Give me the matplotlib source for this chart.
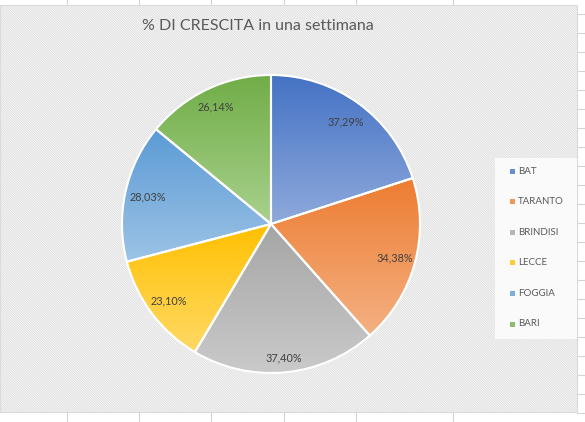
import numpy as np
import matplotlib.pyplot as plt
from matplotlib.patches import Rectangle
from matplotlib.colors import LinearSegmentedColormap
from matplotlib.lines import Line2D

# dati
province = ["BAT", "TARANTO", "BRINDISI", "LECCE", "FOGGIA", "BARI"]
crescita = [37.29, 34.38, 37.40, 23.10, 28.03, 26.14]
etichette = ["37,29%", "34,38%", "37,40%", "23,10%", "28,03%", "26,14%"]

# colori (alto scuro -> basso chiaro)
col_top = ["#4472C4", "#ED7D31", "#A5A5A5", "#FFC000", "#5B9BD5", "#70AD47"]
col_bot = ["#8FAADC", "#F4B183", "#CACACA", "#FFD966", "#9DC3E6", "#A9D18E"]

plt.rcParams["hatch.linewidth"] = 0.6
plt.rcParams["hatch.color"] = "#dedede"

W, H = 585, 422
fig = plt.figure(figsize=(W / 100, H / 100), dpi=100)
fig.patch.set_facecolor("white")

def fx(px):
    return px / W

def fy(py):
    return 1 - py / H

# griglia del foglio dietro il grafico
for x in [67, 139, 211, 284, 356, 453]:
    fig.add_artist(Line2D([fx(x), fx(x)], [0, 1], color="#d4d4d4", lw=0.8, zorder=0))
for y in np.arange(14, 422, 19):
    fig.add_artist(Line2D([fx(577), 1], [fy(y), fy(y)], color="#d4d4d4", lw=0.8, zorder=0))

# area del grafico con trama diagonale
area = Rectangle((0, fy(412)), fx(577), fy(5) - fy(412), transform=fig.transFigure,
                 facecolor="#f7f7f7", edgecolor="#d9d9d9", lw=0.8, zorder=1)
fig.add_artist(area)
trama = Rectangle((0, fy(412)), fx(577), fy(5) - fy(412), transform=fig.transFigure,
                  facecolor="none", edgecolor="#dedede", hatch="\\" * 14, lw=0, zorder=1.1)
fig.add_artist(trama)

# riquadro legenda
fig.add_artist(Rectangle((fx(495), fy(339)), fx(577) - fx(495), fy(158) - fy(339),
                         transform=fig.transFigure, facecolor="#fafafa",
                         edgecolor="none", zorder=1.2))

# torta
ax = fig.add_axes([fx(271 - 149), fy(224 + 149), 298 / W, 298 / H])
ax.set_zorder(2)
ax.patch.set_visible(False)
wedges, texts = ax.pie(crescita, startangle=90, counterclock=False,
                       colors=col_top, radius=1,
                       wedgeprops=dict(edgecolor="white", linewidth=1.5))

grad = np.linspace(0, 1, 256).reshape(-1, 1)
for w, c1, c2 in zip(wedges, col_top, col_bot):
    bb = w.get_path().get_extents()
    cmap = LinearSegmentedColormap.from_list("g", [c1, c2])
    im = ax.imshow(grad, cmap=cmap, extent=[bb.x0, bb.x1, bb.y0, bb.y1],
                   origin="upper", aspect="auto", zorder=1)
    im.set_clip_path(w)
    w.set_zorder(2)
    w.set_facecolor("none")

ax.set_xlim(-1, 1)
ax.set_ylim(-1, 1)
ax.set_aspect("equal")
ax.axis("off")

# etichette percentuali
dist = [0.85, 0.86, 0.9, 0.86, 0.85, 0.87]
for w, lab, d in zip(wedges, etichette, dist):
    ang = np.deg2rad((w.theta1 + w.theta2) / 2)
    ax.text(d * np.cos(ang), d * np.sin(ang), lab, ha="center", va="center",
            fontsize=7.8, color="#404040", family="Lato", zorder=3)

# titolo
fig.text(fx(258), fy(26), "% DI CRESCITA in una settimana", ha="center", va="center",
         fontsize=11.5, color="#595959", family="Lato", zorder=3)

# legenda
for i, (nome, c) in enumerate(zip(province, col_top)):
    y = 171 + i * 30.6
    fig.add_artist(Rectangle((fx(510), fy(y + 2.5)), 5 / W, 5 / H,
                             transform=fig.transFigure, facecolor=c,
                             edgecolor="none", alpha=0.8, zorder=3))
    fig.text(fx(518), fy(y), nome, ha="left", va="center", fontsize=7,
             color="#595959", family="Lato", zorder=3)

plt.savefig("out.png", dpi=100)
